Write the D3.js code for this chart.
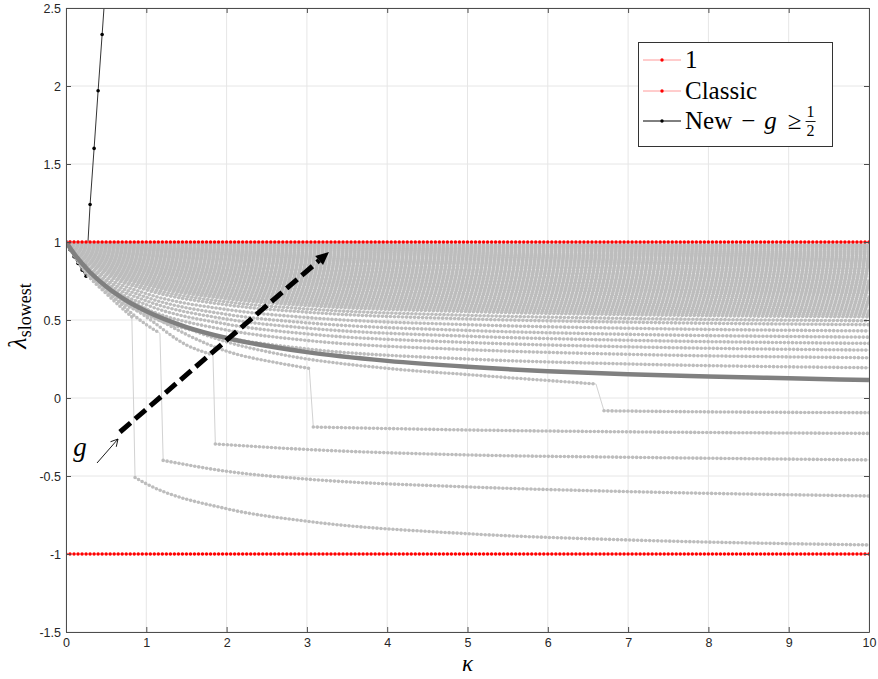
<!DOCTYPE html>
<html>
<head>
<meta charset="utf-8">
<script src="https://cdn.jsdelivr.net/npm/d3@7"></script>
<style>
body { margin: 0; background: #fff; }
</style>
</head>
<body>
<svg width="878" height="679"></svg>
<script>
// ---- data ----
var kappaGrid = [0, 0.25, 0.5, 1, 2, 3, 5, 7, 10];

// gray family, one row per curve, values at kappaGrid
var bandCurves = [
    [1, 0.807, 0.678, 0.533, 0.387, 0.315, 0.250, 0.218, 0.194],
    [1, 0.822, 0.703, 0.570, 0.436, 0.369, 0.310, 0.280, 0.258],
    [1, 0.834, 0.723, 0.598, 0.473, 0.411, 0.356, 0.328, 0.307],
    [1, 0.844, 0.740, 0.623, 0.506, 0.448, 0.396, 0.370, 0.350],
    [1, 0.854, 0.756, 0.646, 0.536, 0.482, 0.433, 0.408, 0.390],
    [1, 0.863, 0.772, 0.669, 0.567, 0.516, 0.470, 0.447, 0.430],
    [1, 0.873, 0.788, 0.693, 0.597, 0.550, 0.507, 0.486, 0.470],
    [1, 0.879, 0.798, 0.707, 0.616, 0.571, 0.530, 0.510, 0.495],
    [1, 0.885, 0.808, 0.722, 0.635, 0.592, 0.554, 0.534, 0.520],
    [1, 0.891, 0.818, 0.736, 0.654, 0.613, 0.577, 0.559, 0.545],
    [1, 0.897, 0.828, 0.751, 0.673, 0.635, 0.600, 0.583, 0.570],
    [1, 0.903, 0.838, 0.765, 0.692, 0.656, 0.623, 0.607, 0.595],
    [1, 0.909, 0.848, 0.780, 0.711, 0.677, 0.647, 0.631, 0.620],
    [1, 0.915, 0.858, 0.794, 0.730, 0.698, 0.670, 0.656, 0.645],
    [1, 0.921, 0.868, 0.809, 0.749, 0.720, 0.693, 0.680, 0.670],
    [1, 0.926, 0.876, 0.820, 0.764, 0.737, 0.712, 0.699, 0.690],
    [1, 0.930, 0.884, 0.832, 0.780, 0.754, 0.730, 0.719, 0.710],
    [1, 0.935, 0.892, 0.843, 0.795, 0.771, 0.749, 0.738, 0.730],
    [1, 0.940, 0.900, 0.855, 0.810, 0.788, 0.768, 0.758, 0.750],
    [1, 0.945, 0.908, 0.867, 0.825, 0.805, 0.786, 0.777, 0.770],
    [1, 0.950, 0.916, 0.878, 0.840, 0.822, 0.805, 0.796, 0.790],
    [1, 0.954, 0.924, 0.890, 0.856, 0.839, 0.823, 0.816, 0.810],
    [1, 0.959, 0.932, 0.901, 0.871, 0.856, 0.842, 0.835, 0.830],
    [1, 0.964, 0.940, 0.913, 0.886, 0.873, 0.861, 0.855, 0.850],
    [1, 0.968, 0.946, 0.922, 0.897, 0.885, 0.874, 0.869, 0.865],
    [1, 0.971, 0.952, 0.930, 0.909, 0.898, 0.888, 0.884, 0.880],
    [1, 0.975, 0.958, 0.939, 0.920, 0.911, 0.902, 0.898, 0.895],
    [1, 0.978, 0.964, 0.948, 0.932, 0.924, 0.916, 0.913, 0.910],
    [1, 0.982, 0.970, 0.957, 0.943, 0.936, 0.930, 0.927, 0.925],
    [1, 0.986, 0.976, 0.965, 0.954, 0.949, 0.944, 0.942, 0.940],
    [1, 0.989, 0.982, 0.974, 0.966, 0.962, 0.958, 0.956, 0.955],
    [1, 0.993, 0.988, 0.983, 0.977, 0.975, 0.972, 0.971, 0.970],
    [1, 0.996, 0.994, 0.991, 0.989, 0.987, 0.986, 0.985, 0.985]
];

// more curves packed into the upper part of the family
var bandCurvesDense = [
    [1, 0.888, 0.813, 0.729, 0.645, 0.603, 0.566, 0.547, 0.533],
    [1, 0.894, 0.823, 0.744, 0.664, 0.624, 0.589, 0.571, 0.558],
    [1, 0.900, 0.833, 0.758, 0.683, 0.646, 0.612, 0.595, 0.583],
    [1, 0.906, 0.843, 0.773, 0.702, 0.667, 0.635, 0.619, 0.608],
    [1, 0.912, 0.853, 0.787, 0.721, 0.688, 0.659, 0.644, 0.633],
    [1, 0.918, 0.863, 0.802, 0.740, 0.709, 0.682, 0.668, 0.658],
    [1, 0.924, 0.872, 0.815, 0.757, 0.729, 0.703, 0.690, 0.680],
    [1, 0.928, 0.880, 0.826, 0.772, 0.746, 0.721, 0.709, 0.700],
    [1, 0.933, 0.888, 0.838, 0.788, 0.763, 0.740, 0.729, 0.720],
    [1, 0.938, 0.896, 0.849, 0.803, 0.780, 0.759, 0.748, 0.740],
    [1, 0.943, 0.904, 0.861, 0.818, 0.797, 0.777, 0.768, 0.760],
    [1, 0.948, 0.912, 0.873, 0.833, 0.814, 0.796, 0.787, 0.780],
    [1, 0.952, 0.920, 0.884, 0.848, 0.831, 0.814, 0.806, 0.800],
    [1, 0.957, 0.928, 0.896, 0.864, 0.848, 0.833, 0.826, 0.820],
    [1, 0.962, 0.936, 0.907, 0.879, 0.865, 0.852, 0.845, 0.840],
    [1, 0.966, 0.943, 0.918, 0.892, 0.879, 0.868, 0.862, 0.858],
    [1, 0.970, 0.949, 0.926, 0.903, 0.892, 0.881, 0.877, 0.873],
    [1, 0.973, 0.955, 0.935, 0.915, 0.905, 0.895, 0.891, 0.888],
    [1, 0.977, 0.961, 0.944, 0.926, 0.918, 0.909, 0.906, 0.903],
    [1, 0.980, 0.967, 0.953, 0.938, 0.930, 0.923, 0.920, 0.918],
    [1, 0.984, 0.973, 0.961, 0.949, 0.943, 0.937, 0.935, 0.933],
    [1, 0.988, 0.979, 0.970, 0.960, 0.956, 0.951, 0.949, 0.948],
    [1, 0.991, 0.985, 0.979, 0.972, 0.969, 0.965, 0.964, 0.963],
    [1, 0.995, 0.991, 0.987, 0.983, 0.981, 0.979, 0.978, 0.978]
];

// gray curves that flip to a negative branch: [kappa, lambda] before and after the jump
var dropBefore = [
    [[0, 1], [0.25, 0.80], [0.5, 0.67], [0.82, 0.52]],
    [[0, 1], [0.25, 0.81], [0.5, 0.69], [1, 0.47], [1.17, 0.415]],
    [[0, 1], [0.25, 0.82], [0.5, 0.70], [1, 0.52], [1.5, 0.34], [1.83, 0.276]],
    [[0, 1], [0.25, 0.83], [0.5, 0.72], [1, 0.55], [2, 0.30], [2.67, 0.222], [3.03, 0.19]],
    [[0, 1], [0.25, 0.84], [0.5, 0.73], [1, 0.57], [2, 0.36], [2.67, 0.28], [4, 0.19], [5, 0.15], [6.6, 0.09]]
];
var dropAfter = [
    [[0.86, -0.51], [1, -0.55], [2, -0.71], [3, -0.79], [5, -0.87], [7, -0.91], [10, -0.942]],
    [[1.21, -0.40], [2, -0.47], [3, -0.52], [5, -0.57], [7, -0.60], [10, -0.628]],
    [[1.86, -0.295], [3, -0.33], [5, -0.365], [7, -0.38], [10, -0.397]],
    [[3.08, -0.186], [5, -0.205], [7, -0.217], [10, -0.227]],
    [[6.7, -0.082], [8, -0.089], [10, -0.094]]
];

// thick dark gray curve
var thickKappa = [0, 0.1, 0.2, 0.3, 0.5, 0.75, 1, 1.5, 2, 3, 4, 5, 6, 7, 8, 9, 10];
var thickValues = [1, 0.926, 0.862, 0.806, 0.714, 0.625, 0.556, 0.455, 0.385, 0.294, 0.238, 0.2, 0.172, 0.152, 0.138, 0.126, 0.115];

// "New - g >= 1/2"
var newKappa = [0, 0.05, 0.1, 0.15, 0.2, 0.25, 0.3, 0.35, 0.4, 0.45, 0.5];
var newValues = [1, 0.95, 0.905, 0.862, 0.82, 0.78, 1.24, 1.60, 1.97, 2.33, 2.70];

// "1" and "Classic"
var boundKappa = [0, 10];
var oneValues = [1, 1];
var classicValues = [-1, -1];

var xTicks = [0, 1, 2, 3, 4, 5, 6, 7, 8, 9, 10];
var yTicks = [-1.5, -1, -0.5, 0, 0.5, 1, 1.5, 2, 2.5];

// ---- drawing ----
var svg = d3.select("svg"),
    width = +svg.attr("width"),
    height = +svg.attr("height");

var plotL = 66, plotR = 869, plotT = 8, plotB = 632;

var x = d3.scaleLinear().domain([0, 10]).range([plotL, plotR]);
var y = d3.scaleLinear().domain([-1.5, 2.5]).range([plotB, plotT]);

var dotGap = (x(0.05) - x(0)).toFixed(3);

svg.append("defs").append("clipPath").attr("id", "plotclip")
    .append("rect")
    .attr("x", plotL).attr("y", plotT)
    .attr("width", plotR - plotL).attr("height", plotB - plotT);

// grid
var grid = svg.append("g").attr("stroke", "#e6e6e6").attr("stroke-width", 1);
grid.selectAll(".gx").data(xTicks).enter().append("line")
    .attr("x1", d => x(d)).attr("x2", d => x(d))
    .attr("y1", plotT).attr("y2", plotB);
grid.selectAll(".gy").data(yTicks).enter().append("line")
    .attr("x1", plotL).attr("x2", plotR)
    .attr("y1", d => y(d)).attr("y2", d => y(d));

var plot = svg.append("g").attr("clip-path", "url(#plotclip)");

var line = d3.line()
    .x(d => x(d[0]))
    .y(d => y(d[1]))
    .curve(d3.curveMonotoneX);
var straight = d3.line().x(d => x(d[0])).y(d => y(d[1]));

// New curve (drawn under the gray family)
var newPts = newKappa.map((k, i) => [k, newValues[i]]);
plot.append("path")
    .attr("d", straight(newPts))
    .attr("fill", "none")
    .attr("stroke", "#000")
    .attr("stroke-width", 0.8);
plot.selectAll(".newdot").data(newPts).enter().append("circle")
    .attr("cx", d => x(d[0])).attr("cy", d => y(d[1]))
    .attr("r", 1.8).attr("fill", "#000");

// gray family
function grayCurve(pts) {
    plot.append("path")
        .attr("d", line(pts))
        .attr("fill", "none")
        .attr("stroke", "#cfcfcf")
        .attr("stroke-width", 0.8);
    plot.append("path")
        .attr("d", line(pts))
        .attr("fill", "none")
        .attr("stroke", "#bdbdbd")
        .attr("stroke-width", 3.6)
        .attr("stroke-linecap", "round")
        .attr("stroke-dasharray", "0 " + dotGap);
}

bandCurves.concat(bandCurvesDense).forEach(function(vals) {
    grayCurve(kappaGrid.map((k, i) => [k, vals[i]]));
});

dropBefore.forEach(function(pre, i) {
    var post = dropAfter[i];
    plot.append("path")
        .attr("d", straight([pre[pre.length - 1], post[0]]))
        .attr("fill", "none")
        .attr("stroke", "#d2d2d2")
        .attr("stroke-width", 1);
    grayCurve(pre);
    grayCurve(post);
});

// thick curve
plot.append("path")
    .attr("d", line(thickKappa.map((k, i) => [k, thickValues[i]])))
    .attr("fill", "none")
    .attr("stroke", "#808080")
    .attr("stroke-width", 4.5);

// red bounds
[oneValues, classicValues].forEach(function(vals) {
    var pts = boundKappa.map((k, i) => [k, vals[i]]);
    plot.append("path")
        .attr("d", straight(pts))
        .attr("stroke", "#ff9a9a")
        .attr("stroke-width", 1);
    plot.append("path")
        .attr("d", straight(pts))
        .attr("stroke", "#ff0000")
        .attr("stroke-width", 3.4)
        .attr("stroke-linecap", "round")
        .attr("stroke-dasharray", "0 " + dotGap);
});

// axes (ticks point inward, box all round)
var axisColor = "#4d4d4d";
function styleAxis(g) {
    g.selectAll("path").attr("stroke", axisColor);
    g.selectAll("line").attr("stroke", axisColor);
    g.selectAll("text")
        .attr("fill", "#262626")
        .style("font-family", "'Liberation Sans', Arial, sans-serif")
        .style("font-size", "12.5px");
}
svg.append("g").attr("transform", "translate(0," + plotB + ")")
    .call(d3.axisBottom(x).tickValues(xTicks).tickSizeInner(-5).tickSizeOuter(0).tickPadding(6)
        .tickFormat(d => String(d)))
    .call(styleAxis);
svg.append("g").attr("transform", "translate(" + plotL + ",0)")
    .call(d3.axisLeft(y).tickValues(yTicks).tickSizeInner(-5).tickSizeOuter(0).tickPadding(5)
        .tickFormat(d => String(d)))
    .call(styleAxis);
svg.append("g").attr("transform", "translate(0," + plotT + ")")
    .call(d3.axisTop(x).tickValues(xTicks).tickSizeInner(-5).tickSizeOuter(0).tickFormat(""))
    .call(styleAxis);
svg.append("g").attr("transform", "translate(" + plotR + ",0)")
    .call(d3.axisRight(y).tickValues(yTicks).tickSizeInner(-5).tickSizeOuter(0).tickFormat(""))
    .call(styleAxis);

var serif = "'Liberation Serif', 'Times New Roman', serif";

// axis labels
svg.append("text")
    .attr("x", x(5)).attr("y", 671)
    .attr("text-anchor", "middle")
    .style("font-family", serif).style("font-style", "italic").style("font-size", "23px")
    .text("κ");

var ylab = svg.append("text")
    .attr("transform", "translate(26,316) rotate(-90)")
    .attr("text-anchor", "middle")
    .style("font-family", serif).style("font-size", "26px");
ylab.append("tspan").style("font-style", "italic").text("λ");
ylab.append("tspan").attr("dy", 5).style("font-size", "18px").text("slowest");

// big dashed arrow for g
var arrowFrom = [0.672, -0.218], arrowTo = [3.275, 0.936];
var ax0 = x(arrowFrom[0]), ay0 = y(arrowFrom[1]), ax1 = x(arrowTo[0]), ay1 = y(arrowTo[1]);
var ang = Math.atan2(ay1 - ay0, ax1 - ax0);
var headLen = 13, headW = 6;
var bx = ax1 - headLen * Math.cos(ang), by = ay1 - headLen * Math.sin(ang);
svg.append("line")
    .attr("x1", ax0).attr("y1", ay0).attr("x2", bx).attr("y2", by)
    .attr("stroke", "#000").attr("stroke-width", 5)
    .attr("stroke-dasharray", "14 6");
svg.append("path")
    .attr("d", "M" + ax1 + "," + ay1 +
        "L" + (bx + headW * Math.sin(ang)) + "," + (by - headW * Math.cos(ang)) +
        "L" + (bx - headW * Math.sin(ang)) + "," + (by + headW * Math.cos(ang)) + "Z")
    .attr("fill", "#000");

// small arrow and g
var sx0 = 97, sy0 = 463, sx1 = 118, sy1 = 439;
var sang = Math.atan2(sy1 - sy0, sx1 - sx0);
svg.append("line")
    .attr("x1", sx0).attr("y1", sy0).attr("x2", sx1).attr("y2", sy1)
    .attr("stroke", "#000").attr("stroke-width", 0.9);
svg.append("path")
    .attr("d", "M" + (sx1 - 8 * Math.cos(sang - 0.5)) + "," + (sy1 - 8 * Math.sin(sang - 0.5)) +
        "L" + sx1 + "," + sy1 +
        "L" + (sx1 - 8 * Math.cos(sang + 0.5)) + "," + (sy1 - 8 * Math.sin(sang + 0.5)))
    .attr("fill", "none").attr("stroke", "#000").attr("stroke-width", 0.9);
svg.append("text")
    .attr("x", 80).attr("y", 456)
    .attr("text-anchor", "middle")
    .style("font-family", serif).style("font-style", "italic").style("font-size", "27px")
    .text("g");

// legend
var legend = svg.append("g");
legend.append("rect")
    .attr("x", 638.5).attr("y", 42.5).attr("width", 194).attr("height", 104)
    .attr("fill", "#fff").attr("stroke", "#333").attr("stroke-width", 1);
var legendItems = [
    {label: "1", line: "#ff9a9a", dot: "#ff0000", y: 60},
    {label: "Classic", line: "#ff9a9a", dot: "#ff0000", y: 91},
    {label: "New", line: "#000", dot: "#000", y: 121}
];
legendItems.forEach(function(d) {
    legend.append("line")
        .attr("x1", 643).attr("x2", 681).attr("y1", d.y).attr("y2", d.y)
        .attr("stroke", d.line).attr("stroke-width", 1);
    legend.append("circle").attr("cx", 662).attr("cy", d.y).attr("r", 1.7).attr("fill", d.dot);
});
var legendText = function(yy) {
    return legend.append("text").attr("x", 685).attr("y", yy + 8)
        .style("font-family", serif).style("font-size", "25px").attr("fill", "#000");
};
legendText(60).text("1");
legendText(91).text("Classic");
var t3 = legendText(121);
t3.append("tspan").text("New");
t3.append("tspan").attr("dx", 9).text("\u2212");
t3.append("tspan").attr("dx", 9).style("font-style", "italic").text("g");
t3.append("tspan").attr("dx", 11).text("\u2265");
var fx = 685 + t3.node().getComputedTextLength() + 38;
legend.append("text").attr("x", fx).attr("y", 117).attr("text-anchor", "middle")
    .style("font-family", serif).style("font-size", "16px").text("1");
legend.append("line").attr("x1", fx - 5).attr("x2", fx + 5).attr("y1", 121.5).attr("y2", 121.5)
    .attr("stroke", "#000").attr("stroke-width", 0.9);
legend.append("text").attr("x", fx).attr("y", 136).attr("text-anchor", "middle")
    .style("font-family", serif).style("font-size", "16px").text("2");
</script>
</body>
</html>
